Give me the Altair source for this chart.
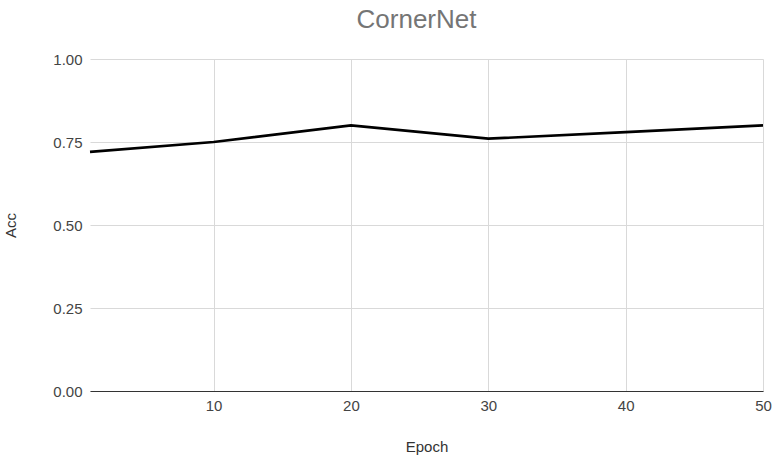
import altair as alt
import pandas as pd

# Accuracy per training epoch
epochs = [1, 10, 20, 30, 40, 50]
acc = [0.72, 0.75, 0.80, 0.76, 0.78, 0.80]

df = pd.DataFrame({"Epoch": epochs, "Acc": acc})

FONT = "Liberation Sans"

chart = (
    alt.Chart(df)
    .mark_line(color="#000000", strokeWidth=2.7)
    .encode(
        x=alt.X(
            "Epoch:Q",
            scale=alt.Scale(domain=[1, 50], nice=False, zero=False),
            axis=alt.Axis(
                values=[10, 20, 30, 40, 50],
                title="Epoch",
                grid=True,
                gridColor="#d9d9d9",
                domainColor="#333333",
                domainWidth=1.2,
                ticks=False,
                labelPadding=7,
                labelFontSize=15,
                labelColor="#444444",
                labelFont=FONT,
                titleFont=FONT,
                titleFontSize=15,
                titleFontWeight="normal",
                titleColor="#333333",
                titlePadding=26,
                labelFlush=False,
            ),
        ),
        y=alt.Y(
            "Acc:Q",
            scale=alt.Scale(domain=[0, 1], nice=False),
            axis=alt.Axis(
                values=[0, 0.25, 0.5, 0.75, 1.0],
                format=".2f",
                title="Acc",
                grid=True,
                gridColor="#d9d9d9",
                domain=False,
                ticks=False,
                labelPadding=8,
                labelFontSize=15,
                labelColor="#444444",
                labelFont=FONT,
                titleFont=FONT,
                titleFontSize=15,
                titleFontWeight="normal",
                titleColor="#333333",
                titlePadding=34,
            ),
        ),
    )
    .properties(
        width=673,
        height=332,
        title=alt.TitleParams(
            "CornerNet",
            font=FONT,
            fontSize=26,
            fontWeight="normal",
            color="#757575",
            anchor="middle",
            offset=19,
            dx=-10,
        ),
        autosize=alt.AutoSizeParams(type="none"),
        padding={"left": 90, "top": 59, "right": 10, "bottom": 65},
    )
    .configure_view(stroke=None)
)

chart.save("out.html", embed_options={"renderer": "svg", "actions": False})
